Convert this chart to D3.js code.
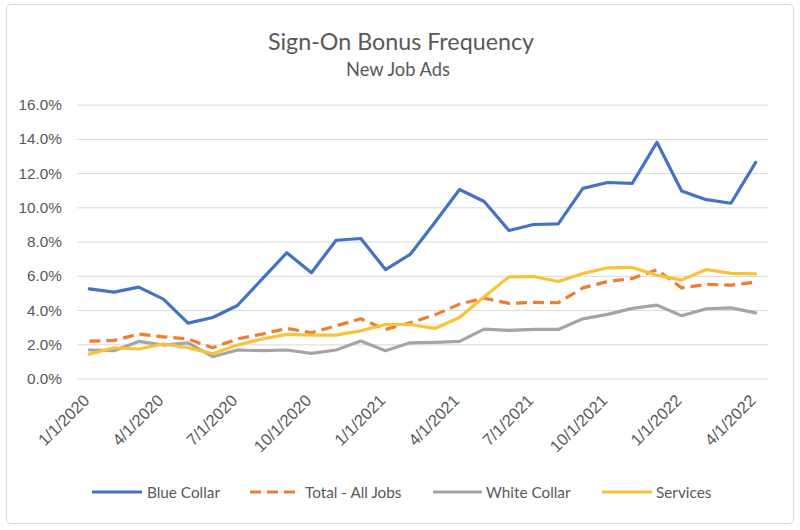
<!DOCTYPE html>
<html><head><meta charset="utf-8">
<script src="https://cdn.jsdelivr.net/npm/d3@7"></script>
<style>body{margin:0;background:#fff}svg{display:block;font-family:Lato,"Noto Sans",sans-serif}</style>
</head><body><svg id="c" width="800" height="530"></svg>
<script>
const months = ["1/1/2020","2/1/2020","3/1/2020","4/1/2020","5/1/2020","6/1/2020","7/1/2020","8/1/2020","9/1/2020","10/1/2020","11/1/2020","12/1/2020",
"1/1/2021","2/1/2021","3/1/2021","4/1/2021","5/1/2021","6/1/2021","7/1/2021","8/1/2021","9/1/2021","10/1/2021","11/1/2021","12/1/2021",
"1/1/2022","2/1/2022","3/1/2022","4/1/2022"];
const tickLabels = ["1/1/2020","4/1/2020","7/1/2020","10/1/2020","1/1/2021","4/1/2021","7/1/2021","10/1/2021","1/1/2022","4/1/2022"];
const yTicks = [0,2,4,6,8,10,12,14,16];
const blueCollar = [5.24,5.05,5.34,4.64,3.24,3.57,4.27,5.81,7.35,6.18,8.08,8.18,6.37,7.25,9.12,11.04,10.34,8.65,9.0,9.03,11.11,11.45,11.4,13.8,10.96,10.45,10.24,12.63];
const totalAll = [2.19,2.23,2.6,2.44,2.31,1.8,2.32,2.6,2.93,2.68,3.08,3.49,2.87,3.26,3.72,4.35,4.7,4.39,4.45,4.43,5.3,5.67,5.85,6.35,5.3,5.5,5.46,5.63];
const whiteCollar = [1.67,1.63,2.17,1.96,2.09,1.28,1.67,1.63,1.67,1.47,1.67,2.19,1.63,2.09,2.12,2.17,2.89,2.82,2.87,2.87,3.49,3.75,4.1,4.29,3.67,4.08,4.13,3.84];
const services = [1.43,1.8,1.73,2.02,1.8,1.45,1.96,2.31,2.58,2.54,2.54,2.79,3.16,3.16,2.93,3.57,4.78,5.94,5.96,5.67,6.14,6.47,6.49,6.04,5.75,6.37,6.14,6.12];
const seriesNames = ["Blue Collar","Total - All Jobs","White Collar","Services"];
const seriesColors = ["#4472c4","#ed7d31","#a5a5a5","#f8c23a"];
const seriesData = [blueCollar,totalAll,whiteCollar,services];

const svg = d3.select("#c");
const txt = "#595959";
function fit(sel, w){ const n=sel.node(); const fs=parseFloat(n.style.fontSize); const m=n.getComputedTextLength(); sel.style("font-size",(fs*w/m).toFixed(2)+"px"); return fs*w/m; }

svg.append("rect").attr("x",6.5).attr("y",4.5).attr("width",787).attr("height",519).attr("rx",4)
  .attr("fill","#fff").attr("stroke","#d9d9d9").attr("stroke-width",1);

const L=77, R=768, T=104.6, B=378.6;
const x = d3.scaleBand().domain(months).range([L,R]);
const y = d3.scaleLinear().domain([0,16]).range([B,T]);
const cx = m => x(m)+x.bandwidth()/2;

const t1 = svg.append("text").attr("x",401).attr("y",50).attr("text-anchor","middle").attr("fill",txt)
  .style("font-size","21px").text("Sign-On Bonus Frequency");
fit(t1,266);
const t2 = svg.append("text").attr("x",398).attr("y",76).attr("text-anchor","middle").attr("fill",txt)
  .style("font-size","15px").text("New Job Ads");
fit(t2,104);

// grid + y labels
const yAxis = d3.axisLeft(y).tickValues(yTicks).tickSize(-(R-L)).tickPadding(0).tickFormat(d=>d.toFixed(1)+"%");
const gy = svg.append("g").attr("transform",`translate(${L},0)`).call(yAxis);
gy.select(".domain").remove();
gy.selectAll(".tick line").attr("stroke","#d9d9d9").attr("stroke-width",1);
const yl = gy.selectAll(".tick text").attr("fill",txt).style("font-size","15px").attr("x",-15);
const yfs = fit(d3.select(yl.nodes()[0]),35);
yl.style("font-size",yfs.toFixed(2)+"px");

// x axis labels
const xAxis = d3.axisBottom(x).tickValues(tickLabels).tickSize(0).tickPadding(0);
const gx = svg.append("g").attr("transform",`translate(0,${B})`).call(xAxis);
gx.select(".domain").remove();
const xl = gx.selectAll(".tick text").attr("fill",txt).style("font-size","15px")
  .attr("text-anchor","end").attr("dy",0).attr("y",0)
  .attr("transform","translate(1,23) rotate(-45)");
const xfs = fit(d3.select(xl.nodes()[0]),64);
xl.style("font-size",xfs.toFixed(2)+"px");

const line = d3.line().x((d,i)=>cx(months[i])).y(d=>y(d));
[0,1,2,3].forEach(k=>{
  svg.append("path").datum(seriesData[k]).attr("fill","none").attr("stroke",seriesColors[k])
   .attr("stroke-width",3.2).attr("stroke-linejoin","round").attr("stroke-linecap", k===1?"butt":"round")
   .attr("stroke-dasharray", k===1?"11,6":null).attr("d",line);
});

// legend
const legX=[92,250,433,602];
const legW=[50,46,49,50];
const legTX=[147,305,486,656];
const legTW=[73,98,86,57];
const lt=[];
seriesNames.forEach((n,k)=>{
  svg.append("line").attr("x1",legX[k]).attr("x2",legX[k]+legW[k]).attr("y1",492).attr("y2",492)
   .attr("stroke",seriesColors[k]).attr("stroke-width",3.2).attr("stroke-dasharray",k===1?"11,6":null);
  lt.push(svg.append("text").attr("x",legTX[k]).attr("y",497.5).attr("fill",txt)
   .style("font-size","14.5px").text(n));
});
const lfs = fit(lt[0],legTW[0]);
lt.forEach(s=>s.style("font-size",lfs.toFixed(2)+"px"));
</script></body></html>
